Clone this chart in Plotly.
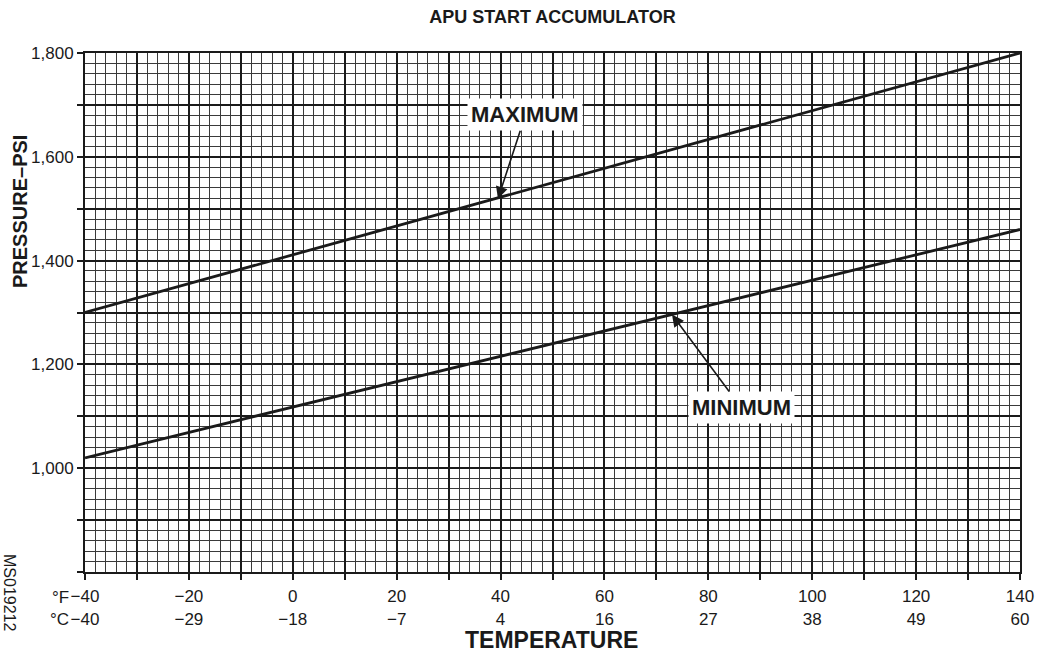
import plotly.graph_objects as go

# ---- data ----
temp_f = [-40, 140]
max_psi = [1300, 1800]
min_psi = [1020, 1460]

x_tickvals = list(range(-40, 141, 10))
f_labels = ["−40", "−20", "0", "20", "40", "60", "80", "100", "120", "140"]
c_labels = ["−40", "−29", "−18", "−7", "4", "16", "27", "38", "49", "60"]
y_tickvals = list(range(800, 1801, 100))
y_labels = ["", "", "1,000", "", "1,200", "", "1,400", "", "1,600", "", "1,800"]

x_ticktext = []
i = 0
for v in x_tickvals:
    if (v + 40) % 20 == 0:
        x_ticktext.append(f"{f_labels[i]}<br>{c_labels[i]}")
        i += 1
    else:
        x_ticktext.append("")

FONT = "Liberation Sans, Arial, Helvetica, sans-serif"
INK = "#1a1a1a"

fig = go.Figure()
fig.add_trace(go.Scatter(x=temp_f, y=max_psi, mode="lines",
                         line=dict(color=INK, width=2.8), showlegend=False))
fig.add_trace(go.Scatter(x=temp_f, y=min_psi, mode="lines",
                         line=dict(color=INK, width=2.8), showlegend=False))

fig.update_layout(
    width=1040, height=658,
    margin=dict(l=85, r=20, t=53, b=86),
    paper_bgcolor="white", plot_bgcolor="white",
    font=dict(family=FONT, color=INK, size=17),
    title=dict(text="<b>APU START ACCUMULATOR</b>", x=0.5, xref="paper",
               y=1 - 17 / 658, yanchor="middle", xanchor="center",
               font=dict(size=18, family=FONT, color=INK)),
)

fig.update_xaxes(
    range=[-40, 140], tickvals=x_tickvals, ticktext=x_ticktext,
    automargin=False, ticklabelstandoff=2,
    ticks="outside", ticklen=6, tickwidth=1.5, tickcolor=INK,
    showgrid=True, gridcolor=INK, gridwidth=2,
    minor=dict(dtick=2, showgrid=True, gridcolor="#3a3a3a", gridwidth=1.1),
    showline=True, linecolor=INK, linewidth=2, mirror=True,
    zeroline=False, tickfont=dict(size=17, family=FONT, color=INK),
)
fig.update_yaxes(
    range=[800, 1800], tickvals=y_tickvals, ticktext=y_labels,
    automargin=False,
    ticks="outside", ticklen=6, tickwidth=1.5, tickcolor=INK,
    showgrid=True, gridcolor=INK, gridwidth=2,
    minor=dict(dtick=20, showgrid=True, gridcolor="#3a3a3a", gridwidth=1.1),
    showline=True, linecolor=INK, linewidth=2, mirror=True,
    zeroline=False, tickfont=dict(size=17, family=FONT, color=INK),
)

# callouts
fig.add_annotation(x=39.5, y=1519, ax=44.8, ay=1681, axref="x", ayref="y",
                   xref="x", yref="y", text="<b>MAXIMUM</b>",
                   font=dict(size=22, family=FONT, color=INK),
                   bgcolor="white", borderpad=3, showarrow=True,
                   arrowhead=2, arrowsize=1.5, arrowwidth=1.6,
                   arrowcolor=INK, standoff=0)
fig.add_annotation(x=73, y=1296, ax=86.3, ay=1117, axref="x", ayref="y",
                   xref="x", yref="y", text="<b>MINIMUM</b>",
                   font=dict(size=22, family=FONT, color=INK),
                   bgcolor="white", borderpad=3, showarrow=True,
                   arrowhead=2, arrowsize=1.5, arrowwidth=1.6,
                   arrowcolor=INK, standoff=0)

# axis titles and unit marks
fig.add_annotation(x=(20 - 85) / 935, y=(572 - 212) / 519, xref="paper", yref="paper",
                   xanchor="center", yanchor="middle",
                   text="<b>PRESSURE–PSI</b>", textangle=-90, showarrow=False,
                   font=dict(size=20, family=FONT, color=INK))
fig.add_annotation(x=(551 - 85) / 935, y=(572 - 640) / 519, xref="paper", yref="paper",
                   xanchor="center", yanchor="middle",
                   text="<b>TEMPERATURE</b>", showarrow=False,
                   font=dict(size=23, family=FONT, color=INK))
fig.add_annotation(x=-40, y=(572 - 608) / 519, xref="x", yref="paper", xanchor="right",
                   yanchor="middle", xshift=-14, text="°F<br>°C", showarrow=False,
                   align="right", font=dict(size=17, family=FONT, color=INK))
fig.add_annotation(x=(10 - 85) / 935, y=(572 - 592) / 519, xref="paper", yref="paper",
                   xanchor="center", yanchor="middle",
                   text="MS019212", textangle=90, showarrow=False,
                   font=dict(size=16, family=FONT, color=INK))

fig.write_html("out.html", config={"displayModeBar": False},
               post_script="document.body.style.margin='0';")
